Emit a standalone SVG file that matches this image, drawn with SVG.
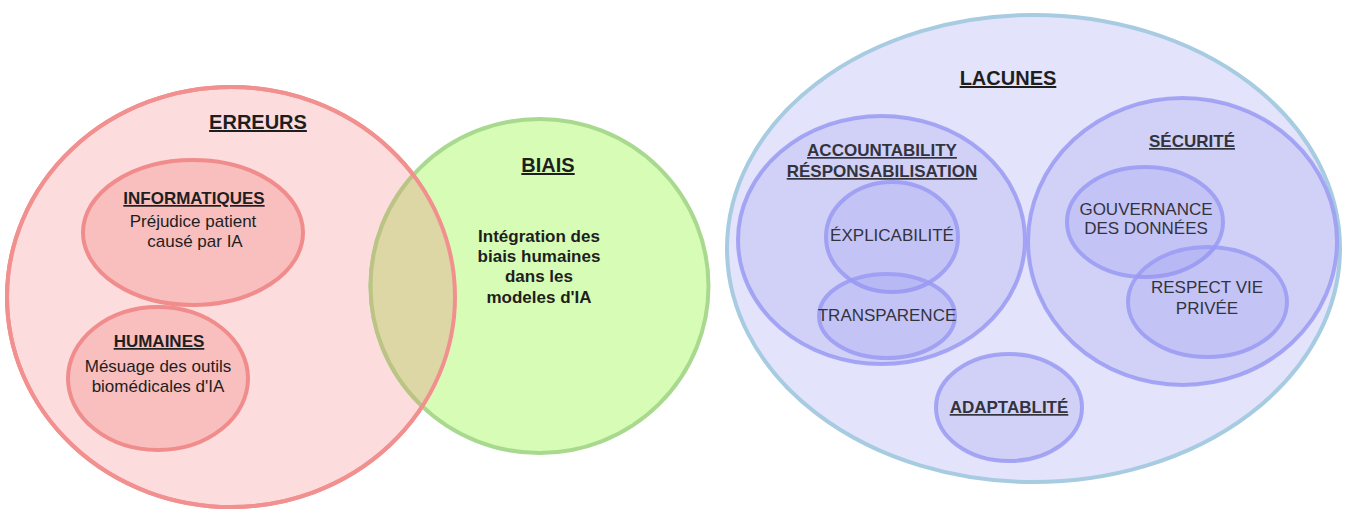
<svg xmlns="http://www.w3.org/2000/svg" width="1346" height="510" viewBox="0 0 1346 510">
<style>
text{font-family:"Liberation Sans",Arial,sans-serif;text-anchor:middle}
.h{font-weight:bold;text-decoration:underline}
.t20{font-size:20px}
.t17{font-size:17px}
.b{font-weight:bold}
.dk{fill:#1e1e1e}
.gy{fill:#33333d}
.red{fill:#fcdcdc;stroke:#f29090;stroke-width:4}
.redin{fill:#f9bebe;stroke:#f08c8c;stroke-width:4}
.grn{fill:#d6fcb6;stroke:#a9d98f;stroke-width:4}
.lac{fill:#e3e3fb;stroke:#a7cbe1;stroke-width:4}
.blu{fill:#8c8cf0;fill-opacity:0.2;stroke:#9a9af3;stroke-opacity:0.85;stroke-width:4}
</style>
<defs>
<clipPath id="clipErr"><ellipse cx="231" cy="297" rx="224" ry="210"/></clipPath>
</defs>
<g id="erreurs">
<ellipse class="red" cx="231" cy="297" rx="224" ry="210"/>
<text class="h t20 dk" x="258" y="129">ERREURS</text>
</g>
<g id="biais">
<ellipse class="grn" cx="539.5" cy="286" rx="169" ry="167"/>
<text class="h t20 dk" x="548" y="172">BIAIS</text>
<text class="t17 b dk" x="539" y="242">Intégration des</text>
<text class="t17 b dk" x="539" y="262">biais humaines</text>
<text class="t17 b dk" x="539" y="282">dans les</text>
<text class="t17 b dk" x="539" y="303">modeles d'IA</text>
</g>
<g id="overlap">
<ellipse clip-path="url(#clipErr)" cx="539.5" cy="286" rx="169" ry="167" fill="#ddd6a5" stroke="#bcc485" stroke-width="4"/>
<ellipse cx="231" cy="297" rx="224" ry="210" fill="none" stroke="#f29090" stroke-width="4"/>
</g>
<g id="informatiques">
<ellipse class="redin" cx="193" cy="232.5" rx="110" ry="72.5"/>
<text class="h t17 dk" x="194" y="204">INFORMATIQUES</text>
<text class="t17 dk" x="193" y="227">Préjudice patient</text>
<text class="t17 dk" x="195" y="247">causé par IA</text>
</g>
<g id="humaines">
<ellipse class="redin" cx="158" cy="378.5" rx="90" ry="71.5"/>
<text class="h t17 dk" x="159" y="347">HUMAINES</text>
<text class="t17 dk" x="158" y="372">Mésuage des outils</text>
<text class="t17 dk" x="158" y="392">biomédicales d'IA</text>
</g>
<g id="lacunes">
<ellipse class="lac" cx="1033.5" cy="248.5" rx="306.5" ry="233.5"/>
<text class="h t20 dk" x="1008" y="85">LACUNES</text>
</g>
<g id="accountability">
<ellipse class="blu" cx="881.5" cy="240" rx="143.5" ry="124"/>
<text class="h t17 gy" x="882" y="156">ACCOUNTABILITY</text>
<text class="h t17 gy" x="882" y="177">RÉSPONSABILISATION</text>
</g>
<g id="explicabilite">
<ellipse class="blu" cx="892" cy="237" rx="66" ry="55"/>
<text class="t17 gy" x="892" y="241">ÉXPLICABILITÉ</text>
</g>
<g id="transparence">
<ellipse class="blu" cx="887" cy="316" rx="68" ry="42"/>
<text class="t17 gy" x="887" y="321">TRANSPARENCE</text>
</g>
<g id="securite">
<ellipse class="blu" cx="1182.5" cy="241.5" rx="154.5" ry="143.5"/>
<text class="h t17 gy" x="1192" y="147">SÉCURITÉ</text>
</g>
<g id="gouvernance">
<ellipse class="blu" cx="1145" cy="222" rx="78" ry="55"/>
<text class="t17 gy" x="1146" y="215">GOUVERNANCE</text>
<text class="t17 gy" x="1146" y="234">DES DONNÉES</text>
</g>
<g id="respect">
<ellipse class="blu" cx="1207.5" cy="302" rx="79.5" ry="55"/>
<text class="t17 gy" x="1207" y="293">RESPECT VIE</text>
<text class="t17 gy" x="1207" y="314">PRIVÉE</text>
</g>
<g id="adaptablite">
<ellipse class="blu" cx="1009" cy="407.5" rx="73" ry="53.5"/>
<text class="h t17 gy" x="1009" y="413">ADAPTABLITÉ</text>
</g>
<g id="connectors"/>
</svg>
